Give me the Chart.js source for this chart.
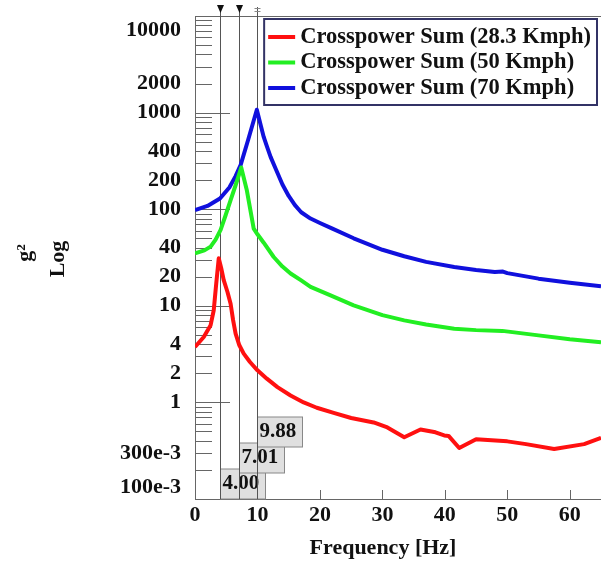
<!DOCTYPE html>
<html lang="en">
<head>
<meta charset="UTF-8">
<title>Crosspower Sum</title>
<script src="https://cdn.jsdelivr.net/npm/chart.js"></script>
<style>
  html, body { margin: 0; padding: 0; background: #fff; }
  #wrap { width: 601px; height: 561px; position: relative; }
</style>
</head>
<body>
<div id="wrap"><canvas id="chart"></canvas></div>
<script>
// series labels and colours
const seriesLabels = ['Crosspower Sum (28.3 Kmph)', 'Crosspower Sum (50 Kmph)', 'Crosspower Sum (70 Kmph)'];
const seriesColors = ['#ff1010', '#22ee22', '#1010dd'];

// 28.3 Kmph
const redFreq = [0, 1.4, 2.5, 3.0, 3.4, 3.8, 4.2, 4.6, 5.2, 5.7, 6.1, 6.5, 7.1, 7.8, 8.8, 10, 11.5, 13.2, 15.3, 17.4, 19.5, 22.2, 25, 28.6, 30.8, 33.5, 36.1, 38.5, 39.9, 40.6, 42.3, 45, 50, 53, 57.5, 62.3, 65];
const redVals = [3.74, 4.75, 6.3, 9.0, 17, 31, 24.5, 18.4, 13.9, 10.5, 7.1, 5.15, 3.9, 3.2, 2.62, 2.15, 1.76, 1.44, 1.18, 1.0, 0.88, 0.78, 0.69, 0.62, 0.55, 0.435, 0.525, 0.49, 0.455, 0.45, 0.337, 0.415, 0.395, 0.37, 0.33, 0.37, 0.43];

// 50 Kmph
const greenFreq = [0, 1.5, 2.5, 3.3, 4.1, 4.9, 5.7, 6.5, 7.4, 8.3, 9.4, 10, 11, 12.6, 14, 15.3, 17, 18.5, 21.7, 25.4, 30, 33.5, 37, 41.5, 45, 49.2, 55, 60, 65];
const greenVals = [35, 37.5, 41, 48.5, 61, 86.6, 124, 177, 270, 157, 63, 55, 45, 32, 25.5, 21.6, 18.3, 15.7, 12.8, 10.1, 8.0, 7.07, 6.4, 5.8, 5.6, 5.5, 4.94, 4.5, 4.2];

// 70 Kmph
const blueFreq = [0, 2, 4, 5.5, 6.5, 7.3, 8.5, 9.9, 10.5, 11, 11.5, 12.1, 13, 14, 15, 16, 17, 18.5, 20, 22, 25.4, 30, 33.5, 37, 41.5, 45, 48, 49.3, 50, 55, 60, 65];
const blueVals = [98, 108, 129, 168, 220, 286, 520, 1070, 750, 560, 450, 348, 255, 180, 137, 110, 93, 80, 72, 63, 50, 38, 32.6, 28.5, 25.2, 23.5, 22.4, 22.6, 21.8, 19.1, 17.3, 15.9];

// axes
const xTickValues = [0, 10, 20, 30, 40, 50, 60];
const yTickValues = [0.1, 0.3, 1, 2, 4, 10, 20, 40, 100, 200, 400, 1000, 2000, 10000];
const yTickLabels = ['100e-3', '300e-3', '1', '2', '4', '10', '20', '40', '100', '200', '400', '1000', '2000', '10000'];

// cursor markers
const markerFreqs = [4.00, 7.01, 9.88];
const markerLabels = ['4.00', '7.01', '9.88'];

const FONT = '"Liberation Serif", "Times New Roman", serif';

function pairs(xs, ys) {
    return xs.map((f, i) => ({ x: f, y: ys[i] }));
}

function hline(ctx, x1, y1, x2, y2) {
    ctx.beginPath();
    ctx.moveTo(x1, y1);
    ctx.lineTo(x2, y2);
    ctx.stroke();
}

const decorPlugin = {
    id: 'decor',
    beforeDatasetsDraw(chart) {
        const { ctx, chartArea: a, scales: { x, y } } = chart;
        ctx.save();
        ctx.strokeStyle = '#666';
        ctx.lineWidth = 1;

        // log ticks drawn inside the plot
        for (let d = 0.1; d < 10000; d *= 10) {
            for (let k = 1; k <= 9; k++) {
                const py = Math.round(y.getPixelForValue(k * d)) + 0.5;
                hline(ctx, a.left, py, a.left + (k === 1 ? 35 : 17), py);
            }
        }
        // x ticks
        xTickValues.forEach(v => {
            if (v === 0) return;
            const px = Math.round(x.getPixelForValue(v)) + 0.5;
            hline(ctx, px, a.bottom, px, a.bottom - 9);
        });
        // top frame
        hline(ctx, a.left, a.top + 0.5, a.right, a.top + 0.5);

        // cursor value boxes
        ctx.font = 'bold 21px ' + FONT;
        ctx.textAlign = 'left';
        ctx.textBaseline = 'middle';
        markerFreqs.forEach((f, i) => {
            const px = Math.round(x.getPixelForValue(f)) + 0.5;
            const bottom = a.bottom - i * 26;
            ctx.fillStyle = '#e0e0e0';
            ctx.fillRect(px, bottom - 30, 45, 30);
            ctx.strokeStyle = '#888';
            ctx.strokeRect(px, bottom - 30, 45, 30);
            ctx.fillStyle = '#111';
            ctx.fillText(markerLabels[i], px + 2, bottom - 15);
        });

        // cursor lines
        ctx.strokeStyle = '#555';
        markerFreqs.forEach((f, i) => {
            const px = Math.round(x.getPixelForValue(f)) + 0.5;
            hline(ctx, px, a.top - 9, px, a.bottom);
            ctx.fillStyle = '#111';
            if (i < 2) {
                ctx.beginPath();
                ctx.moveTo(px - 3.5, a.top - 11);
                ctx.lineTo(px + 3.5, a.top - 11);
                ctx.lineTo(px, a.top - 3);
                ctx.closePath();
                ctx.fill();
            } else {
                ctx.strokeStyle = '#888';
                hline(ctx, px - 3, a.top - 7.5, px + 3, a.top - 7.5);
                hline(ctx, px - 3, a.top - 4.5, px + 3, a.top - 4.5);
                ctx.strokeStyle = '#555';
            }
        });
        ctx.restore();
    },
    afterDatasetsDraw(chart) {
        const { ctx, chartArea: a, scales: { y } } = chart;
        ctx.save();
        ctx.fillStyle = '#111';

        // y tick labels, the end ones kept inside the frame
        ctx.font = 'bold 22px ' + FONT;
        ctx.textAlign = 'right';
        ctx.textBaseline = 'middle';
        yTickValues.forEach((v, i) => {
            let py = y.getPixelForValue(v);
            py = Math.min(Math.max(py, a.top + 14), a.bottom - 12);
            ctx.fillText(yTickLabels[i], a.left - 14, py);
        });

        // axis titles
        ctx.font = 'bold 22px ' + FONT;
        ctx.textAlign = 'center';
        ctx.textBaseline = 'alphabetic';
        ctx.fillText('Frequency [Hz]', a.left + 188, 554);
        ctx.save();
        ctx.translate(31, 253);
        ctx.rotate(-Math.PI / 2);
        ctx.fillText('g\u00b2', 0, 0);
        ctx.restore();
        ctx.save();
        ctx.translate(64, 259);
        ctx.rotate(-Math.PI / 2);
        ctx.fillText('Log', 0, 0);
        ctx.restore();

        // legend
        const sets = chart.data.datasets;
        ctx.font = 'bold 22.5px ' + FONT;
        const textW = Math.max(...sets.map(ds => ctx.measureText(ds.label).width));
        const boxW = textW + 42;
        const boxL = a.right - 4 - boxW;
        const boxT = a.top + 3;
        ctx.fillStyle = '#fff';
        ctx.fillRect(boxL, boxT, boxW, 86);
        ctx.strokeStyle = '#333366';
        ctx.lineWidth = 2;
        ctx.strokeRect(boxL, boxT, boxW, 86);
        ctx.textAlign = 'left';
        ctx.textBaseline = 'middle';
        sets.forEach((ds, i) => {
            const ry = boxT + 18 + i * 25.5;
            ctx.strokeStyle = ds.borderColor;
            ctx.lineWidth = 4;
            hline(ctx, boxL + 4, ry, boxL + 31, ry);
            ctx.fillStyle = '#111';
            ctx.fillText(ds.label, boxL + 36, ry);
        });
        ctx.restore();
    }
};

const allFreq = [redFreq, greenFreq, blueFreq];
const allVals = [redVals, greenVals, blueVals];

new Chart(document.getElementById('chart'), {
    type: 'line',
    data: {
        datasets: seriesLabels.map((label, i) => ({
            label: label,
            data: pairs(allFreq[i], allVals[i]),
            borderColor: seriesColors[i],
            backgroundColor: seriesColors[i],
            borderWidth: 4,
            borderJoinStyle: 'round',
            pointRadius: 0,
            tension: 0,
            fill: false
        }))
    },
    options: {
        responsive: true,
        maintainAspectRatio: false,
        animation: false,
        layout: { padding: { top: 16, left: 0, right: 0, bottom: 0 } },
        plugins: {
            legend: { display: false },
            tooltip: { enabled: false }
        },
        scales: {
            x: {
                type: 'linear',
                min: 0,
                max: 65,
                afterBuildTicks: s => { s.ticks = xTickValues.map(v => ({ value: v })); },
                afterFit: s => { s.height = 62; },
                grid: { display: false, drawTicks: false },
                border: { display: true, color: '#666', width: 1 },
                ticks: {
                    autoSkip: false,
                    maxRotation: 0,
                    padding: 3,
                    color: '#111',
                    font: { family: FONT, weight: 'bold', size: 22 }
                }
            },
            y: {
                type: 'logarithmic',
                min: 0.1,
                max: 10000,
                afterFit: s => { s.width = 195; },
                grid: { display: false, drawTicks: false },
                border: { display: true, color: '#666', width: 1 },
                ticks: { display: false }
            }
        }
    },
    plugins: [decorPlugin]
});
</script>
</body>
</html>
